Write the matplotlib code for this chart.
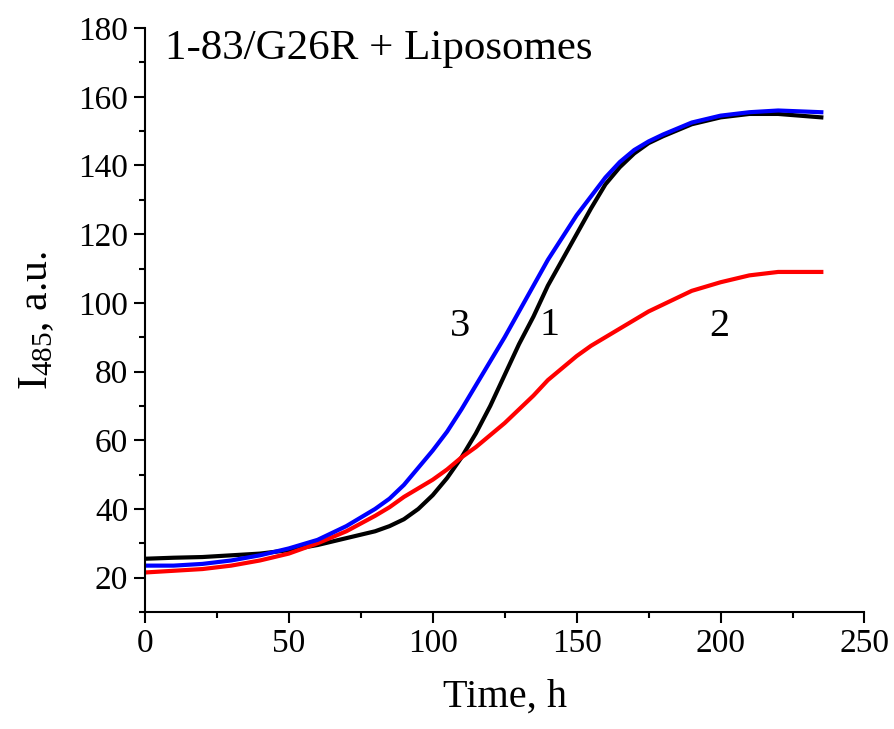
import matplotlib
matplotlib.use("Agg")
import matplotlib.pyplot as plt
from matplotlib.ticker import MultipleLocator

# time grid (h)
TIME = [0, 10, 20, 30, 40, 50, 60, 70, 80, 85, 90, 95, 100, 105, 110, 115,
        120, 125, 130, 135, 140, 145, 150, 155, 160, 165, 170, 175, 180,
        190, 200, 210, 220, 235]

# curve 1 (black)
CURVE_1 = [25.5, 25.8, 26, 26.5, 27, 28, 29.5, 31.5, 33.5, 35, 37, 40, 44,
           49, 55, 62, 70, 79, 88, 96, 105, 112.5, 120, 127.5, 134.5, 139.5,
           143.5, 146.5, 148.5, 152, 154, 155, 155, 154]

# curve 2 (red)
CURVE_2 = [21.5, 22, 22.5, 23.5, 25, 27, 30, 33.5, 38, 40.5, 43.5, 46, 48.5,
           51.5, 55, 58, 61.5, 65, 69, 73, 77.5, 81, 84.5, 87.5, 90, 92.5,
           95, 97.5, 99.5, 103.5, 106, 108, 109, 109]

# curve 3 (blue)
CURVE_3 = [23.5, 23.5, 24, 25, 26.5, 28.5, 31, 35, 40, 43, 47, 52, 57, 62.5,
           69, 76, 83, 90, 97.5, 105, 112.5, 119, 125.5, 131, 136.5, 141,
           144.5, 147, 149, 152.5, 154.5, 155.5, 156, 155.5]

CURVE_LABELS = ["1", "2", "3"]
LABEL_POS = [(140.6, 93.5), (199.7, 93.0), (109.4, 93.0)]

plt.rcParams["font.family"] = ["Liberation Serif", "DejaVu Serif"]
plt.rcParams["mathtext.fontset"] = "custom"
plt.rcParams["mathtext.rm"] = "Liberation Serif"
plt.rcParams["mathtext.default"] = "regular"

fig = plt.figure(figsize=(8.94, 7.29), dpi=100)
ax = fig.add_axes([0.162, 0.1605, 0.805, 0.801])

ax.plot(TIME, CURVE_1, color="black", linewidth=3)
ax.plot(TIME, CURVE_2, color="#ff0000", linewidth=3)
ax.plot(TIME, CURVE_3, color="#0000ff", linewidth=3)

for lab, (x, y) in zip(CURVE_LABELS, LABEL_POS):
    ax.text(x, y, lab, fontsize=29, ha="center", va="center")

ax.text(7, 171, "1-83/G26R + Liposomes", fontsize=31, ha="left", va="baseline")

ax.set_xlim(0, 250)
ax.set_ylim(10, 180)
ax.xaxis.set_major_locator(MultipleLocator(50))
ax.xaxis.set_minor_locator(MultipleLocator(25))
ax.yaxis.set_major_locator(MultipleLocator(20))
ax.yaxis.set_minor_locator(MultipleLocator(10))
ax.set_yticks(range(20, 181, 20))

for side in ("top", "right"):
    ax.spines[side].set_visible(False)
for side in ("left", "bottom"):
    ax.spines[side].set_linewidth(1.5)

ax.tick_params(which="major", direction="out", length=8, width=1.5,
               labelsize=24, pad=4)
ax.tick_params(which="minor", direction="out", length=4, width=1.5)

ax.set_xlabel("Time, h", fontsize=29, labelpad=14)
ax.set_ylabel("I$_{485}$, a.u.", fontsize=30, labelpad=16)

fig.savefig("out.png", dpi=100)
